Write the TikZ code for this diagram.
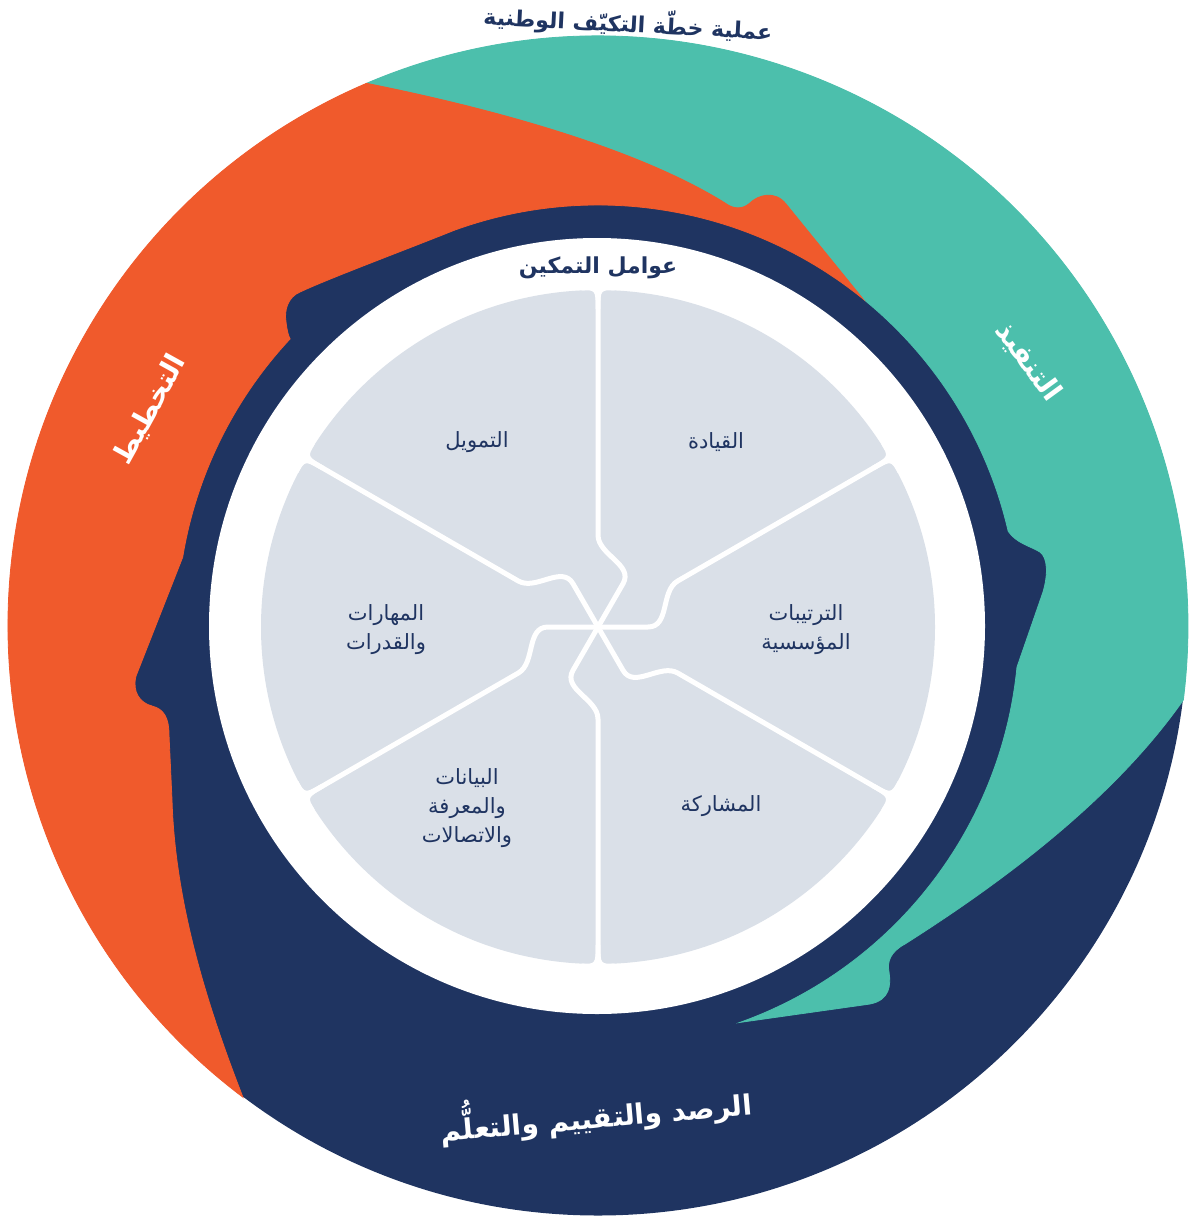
\documentclass[tikz,border=0pt]{standalone}
\usepackage{fontspec}
\TeXXeTstate=1
\newfontfamily\ar[Script=Arabic]{DejaVu Sans}
\definecolor{navyc}{HTML}{1F3461}
\definecolor{orangec}{HTML}{F05A2C}
\definecolor{tealc}{HTML}{4CBFAC}
\definecolor{grayc}{HTML}{DAE0E8}
\tikzset{
  lbl/.style={text=navyc, font=\ar\fontsize{21}{29}\selectfont, align=center, inner sep=0pt},
  ringlbl/.style={text=white, font=\ar\bfseries\fontsize{28}{32}\selectfont, inner sep=0pt},
  ttl/.style={text=navyc, font=\ar\bfseries\fontsize{22}{26}\selectfont, inner sep=0pt},
  divider/.style={draw=white, line width=5pt, line cap=round, line join=round},
  seg/.style={fill=#1, draw=#1, line width=0.8pt},
}
\begin{document}
\begin{tikzpicture}[x=1pt,y=-1pt]
\useasboundingbox (0,0) rectangle (1191,1220);
\coordinate (c0) at (598,626);
\coordinate (tj) at ([shift={(-113.1:590)}]c0);
\coordinate (oj) at ([shift={(-233:590)}]c0);
% base navy disc
\fill[navyc] (c0) circle[radius=589.5];
% teal segment
\path[seg=tealc] (tj) arc[start angle=-113.1,end angle=7.2,radius=590]
  .. controls (1110,805) and (990,890) .. (905,944)
  .. controls (890,952) and (887,962) .. (889,972)
  .. controls (891,985) and (890,1000) .. (870,1004)
  -- (739.9,1022.4)
  arc[start angle=70.3,end angle=5.6,radius=421]
  -- (1043,592) .. controls (1048,575) and (1048,558) .. (1040,552)
  .. controls (1030,546) and (1016,543) .. (1008.2,531.3)
  arc[start angle=-13,end angle=-51,radius=421]
  -- (786,204) .. controls (775,190) and (758,195) .. (750,203)
  .. controls (742,210) and (733,209) .. (725,203)
  .. controls (640,150) and (500,110) .. (tj) -- cycle;
% orange segment
\path[seg=orangec] (oj) arc[start angle=-233,end angle=-113.1,radius=590]
  .. controls (500,110) and (640,150) .. (725,203)
  .. controls (733,209) and (742,210) .. (750,203)
  .. controls (758,195) and (775,190) .. (786,204)
  -- (862.9,298.8)
  arc[start angle=-51,end angle=-110,radius=421]
  .. controls (400,252) and (330,278) .. (300,292)
  .. controls (288,297) and (284,310) .. (286,322)
  .. controls (287,330) and (288,335) .. (290.1,338.9)
  arc[start angle=-137,end angle=-170.6,radius=421]
  -- (136,676) .. controls (132,692) and (140,703) .. (152,706)
  .. controls (164,709) and (169,718) .. (169,735)
  -- (172,800) .. controls (175,900) and (205,1000) .. (oj) -- cycle;
% white ring and grey pie
\fill[white] (597,626) circle[radius=388];
\fill[grayc] (598,627) circle[radius=337];
\begin{scope}[shift={(598,627)},yscale=-1]
\foreach \a in {0,60,...,300}{
  \draw[divider] (0,0) -- (\a:50) .. controls +(\a:22) and +(\a+210:20) .. (\a+30:92) -- (\a+30:342);
}
\foreach \b in {30,90,...,330}{
  \begin{scope}[rotate=\b]
    \fill[white] (318,0) -- (318,2.4) .. controls (337,2.4) .. (336.6,16.5) -- (348,16.5)
      -- (348,-16.5) -- (336.6,-16.5) .. controls (337,-2.4) .. (318,-2.4) -- cycle;
  \end{scope}
}
\end{scope}
% labels
\node[ttl,rotate=-3] (title) at (628,23) {\beginR عملية خطّة التكيّف الوطنية\endR};
\node[ttl] (enablers) at (598,268) {\beginR عوامل التمكين\endR};
\node[ringlbl,rotate=61] (plan) at (150,410) {\beginR التخطيط\endR};
\node[ringlbl,rotate=-54] (impl) at (1028,362) {\beginR التنفيذ\endR};
\node[ringlbl,rotate=5] (mel) at (596,1112) {\beginR الرصد والتقييم والتعلُّم\endR};
\node[lbl] (lead) at (716,442) {\beginR القيادة\endR};
\node[lbl] (fund) at (477,442) {\beginR التمويل\endR};
\node[lbl] (inst) at (806,630) {\beginR الترتيبات\endR\\\beginR المؤسسية\endR};
\node[lbl] (skills) at (386,630) {\beginR المهارات\endR\\\beginR والقدرات\endR};
\node[lbl] (part) at (721,806) {\beginR المشاركة\endR};
\node[lbl] (data) at (467,808) {\beginR البيانات\endR\\\beginR والمعرفة\endR\\\beginR والاتصالات\endR};
\end{tikzpicture}
\end{document}
